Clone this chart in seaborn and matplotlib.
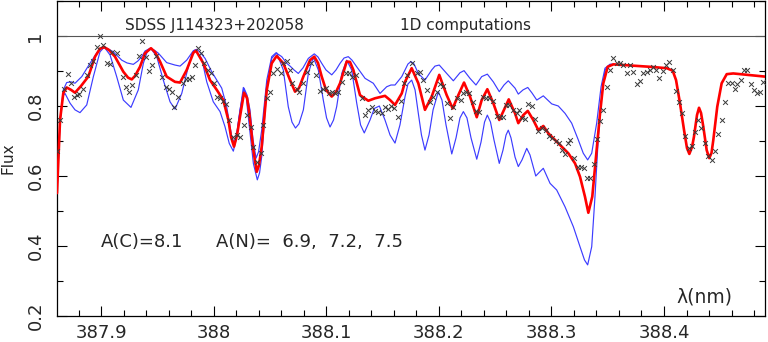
import matplotlib
matplotlib.use("Agg")
import matplotlib.pyplot as plt
import seaborn as sns
import pandas as pd
from matplotlib.ticker import FixedLocator, MultipleLocator

# ---------------- data (wavelength nm, normalised flux) ----------------
model_mid = [  # A(N)=7.2, red
(387.8609,0.551),(387.8636,0.760),(387.8665,0.837),(387.8695,0.853),(387.8734,0.846),(387.8769,0.838),(387.8822,0.857),(387.8887,0.884),(387.8947,0.941),(387.8991,0.964),(387.9029,0.968),(387.9071,0.960),(387.9124,0.941),(387.9198,0.898),(387.9240,0.881),(387.9273,0.876),(387.9302,0.886),(387.9346,0.912),(387.9391,0.951),(387.9444,0.965),(387.9480,0.954),(387.9524,0.927),(387.9583,0.884),(387.9657,0.869),(387.9702,0.867),(387.9761,0.903),(387.9820,0.952),(387.9844,0.958),(387.9909,0.922),(387.9968,0.874),(388.0028,0.846),(388.0086,0.817),(388.0131,0.760),(388.0155,0.711),(388.0181,0.684),(388.0208,0.717),(388.0234,0.769),(388.0270,0.838),(388.0297,0.823),(388.0317,0.779),(388.0353,0.674),(388.0383,0.612),(388.0403,0.631),(388.0427,0.684),(388.0472,0.846),(388.0516,0.922),(388.0560,0.943),(388.0619,0.922),(388.0679,0.874),(388.0723,0.841),(388.0758,0.851),(388.0797,0.884),(388.0856,0.931),(388.0894,0.941),(388.0927,0.923),(388.0960,0.884),(388.0998,0.846),(388.1049,0.827),(388.1087,0.840),(388.1123,0.865),(388.1182,0.927),(388.1211,0.926),(388.1241,0.903),(388.1300,0.831),(388.1374,0.815),(388.1433,0.822),(388.1522,0.829),(388.1567,0.817),(388.1611,0.803),(388.1671,0.836),(388.1700,0.869),(388.1759,0.908),(388.1818,0.865),(388.1877,0.789),(388.1937,0.827),(388.2004,0.889),(388.2070,0.831),(388.2123,0.793),(388.2173,0.831),(388.2224,0.867),(388.2277,0.827),(388.2337,0.768),(388.2381,0.817),(388.2431,0.848),(388.2484,0.808),(388.2537,0.760),(388.2579,0.789),(388.2621,0.819),(388.2677,0.779),(388.2706,0.751),(388.2750,0.774),(388.2790,0.786),(388.2839,0.760),(388.2884,0.731),(388.2928,0.743),(388.2973,0.722),(388.3032,0.703),(388.3092,0.684),(388.3150,0.665),(388.3210,0.636),(388.3254,0.598),(388.3298,0.541),(388.3328,0.495),(388.3363,0.541),(388.3396,0.655),(388.3432,0.779),(388.3461,0.865),(388.3500,0.912),(388.3550,0.919),(388.3743,0.915),(388.3876,0.912),(388.4024,0.908),(388.4077,0.901),(388.4107,0.874),(388.4142,0.808),(388.4178,0.731),(388.4204,0.680),(388.4225,0.663),(388.4249,0.683),(388.4266,0.712),(388.4293,0.774),(388.4311,0.795),(388.4329,0.780),(388.4349,0.741),(388.4379,0.674),(388.4402,0.651),(388.4422,0.666),(388.4438,0.703),(388.4473,0.798),(388.4512,0.865),(388.4557,0.891),(388.4615,0.893),(388.4897,0.884)]

model_low = [  # A(N)=6.9, blue
(387.8609,0.551),(387.8636,0.760),(387.8665,0.846),(387.8695,0.867),(387.8734,0.869),(387.8769,0.865),(387.8829,0.884),(387.8902,0.922),(387.8976,0.958),(387.9029,0.969),(387.9109,0.955),(387.9184,0.931),(387.9231,0.923),(387.9287,0.919),(387.9329,0.929),(387.9361,0.941),(387.9391,0.957),(387.9435,0.965),(387.9471,0.960),(387.9509,0.951),(387.9583,0.924),(387.9657,0.917),(387.9702,0.914),(387.9761,0.931),(387.9820,0.958),(387.9850,0.962),(387.9879,0.954),(387.9924,0.936),(387.9983,0.898),(388.0028,0.874),(388.0072,0.851),(388.0116,0.798),(388.0161,0.712),(388.0184,0.694),(388.0208,0.726),(388.0234,0.789),(388.0270,0.851),(388.0297,0.831),(388.0323,0.789),(388.0350,0.703),(388.0377,0.651),(388.0399,0.669),(388.0427,0.731),(388.0472,0.874),(388.0516,0.941),(388.0554,0.952),(388.0605,0.941),(388.0649,0.922),(388.0679,0.914),(388.0714,0.903),(388.0752,0.893),(388.0794,0.909),(388.0841,0.936),(388.0894,0.949),(388.0927,0.940),(388.0960,0.922),(388.0998,0.903),(388.1049,0.889),(388.1087,0.903),(388.1123,0.922),(388.1158,0.937),(388.1196,0.941),(388.1229,0.931),(388.1271,0.912),(388.1345,0.879),(388.1418,0.865),(388.1478,0.836),(388.1537,0.855),(388.1575,0.860),(388.1611,0.860),(388.1671,0.884),(388.1700,0.903),(388.1726,0.920),(388.1753,0.927),(388.1780,0.920),(388.1818,0.893),(388.1877,0.874),(388.1937,0.903),(388.1966,0.914),(388.2004,0.917),(388.2070,0.893),(388.2129,0.872),(388.2188,0.895),(388.2224,0.901),(388.2277,0.879),(388.2330,0.860),(388.2381,0.884),(388.2431,0.891),(388.2484,0.869),(388.2537,0.841),(388.2579,0.860),(388.2617,0.872),(388.2677,0.851),(388.2706,0.834),(388.2748,0.846),(388.2790,0.853),(388.2828,0.837),(388.2870,0.817),(388.2928,0.829),(388.3003,0.806),(388.3061,0.800),(388.3121,0.779),(388.3180,0.751),(388.3239,0.703),(388.3283,0.665),(388.3322,0.646),(388.3358,0.665),(388.3402,0.751),(388.3441,0.855),(388.3476,0.908),(388.3520,0.919),(388.3550,0.919)]

model_high = [  # A(N)=7.5, blue
(387.8609,0.551),(387.8636,0.754),(387.8663,0.829),(387.8680,0.836),(387.8725,0.808),(387.8769,0.789),(387.8813,0.781),(387.8873,0.803),(387.8932,0.884),(387.8991,0.955),(387.9029,0.968),(387.9080,0.946),(387.9139,0.884),(387.9198,0.817),(387.9266,0.796),(387.9331,0.846),(387.9376,0.922),(387.9409,0.954),(387.9441,0.965),(387.9495,0.941),(387.9553,0.874),(387.9613,0.812),(387.9657,0.791),(387.9717,0.836),(387.9775,0.912),(387.9808,0.949),(387.9835,0.960),(387.9894,0.936),(387.9939,0.869),(387.9997,0.812),(388.0057,0.784),(388.0101,0.741),(388.0139,0.693),(388.0175,0.671),(388.0199,0.703),(388.0219,0.751),(388.0264,0.853),(388.0288,0.831),(388.0308,0.769),(388.0353,0.636),(388.0388,0.589),(388.0408,0.609),(388.0427,0.655),(388.0472,0.846),(388.0516,0.936),(388.0560,0.952),(388.0619,0.903),(388.0663,0.798),(388.0696,0.754),(388.0727,0.737),(388.0758,0.749),(388.0797,0.789),(388.0841,0.893),(388.0885,0.939),(388.0930,0.903),(388.0974,0.817),(388.1003,0.766),(388.1034,0.740),(388.1065,0.760),(388.1093,0.798),(388.1138,0.893),(388.1182,0.931),(388.1226,0.903),(388.1271,0.808),(388.1305,0.746),(388.1338,0.723),(388.1389,0.760),(388.1427,0.793),(388.1472,0.800),(388.1522,0.760),(388.1567,0.717),(388.1611,0.694),(388.1655,0.746),(388.1700,0.827),(388.1726,0.863),(388.1759,0.874),(388.1789,0.846),(388.1818,0.779),(388.1846,0.717),(388.1877,0.674),(388.1913,0.717),(388.1949,0.789),(388.1996,0.841),(388.2028,0.817),(388.2064,0.746),(388.2115,0.663),(388.2153,0.709),(388.2188,0.766),(388.2218,0.784),(388.2250,0.766),(388.2286,0.709),(388.2337,0.648),(388.2375,0.697),(388.2406,0.754),(388.2431,0.774),(388.2459,0.754),(388.2490,0.703),(388.2537,0.636),(388.2570,0.674),(388.2597,0.717),(388.2617,0.731),(388.2641,0.709),(388.2677,0.654),(388.2706,0.627),(388.2739,0.646),(388.2781,0.679),(388.2810,0.660),(388.2861,0.600),(388.2894,0.611),(388.2928,0.622),(388.2988,0.579),(388.3047,0.560),(388.3121,0.512),(388.3195,0.455),(388.3254,0.398),(388.3294,0.360),(388.3322,0.346),(388.3358,0.398),(388.3387,0.541),(388.3417,0.712),(388.3447,0.827),(388.3476,0.903),(388.3520,0.919),(388.3550,0.919)]

observed = [
(387.8607,0.672),(387.8636,0.760),(387.8674,0.848),(387.8704,0.891),(387.8734,0.865),(387.8763,0.827),(387.8784,0.831),(387.8805,0.834),(387.8843,0.848),(387.8873,0.889),(387.8902,0.917),(387.8932,0.929),(387.8962,0.968),(387.8991,1.001),(387.9020,0.974),(387.9051,0.922),(387.9080,0.920),(387.9100,0.955),(387.9139,0.952),(387.9198,0.884),(387.9219,0.853),(387.9249,0.841),(387.9278,0.860),(387.9308,0.889),(387.9338,0.943),(387.9367,0.986),(387.9397,0.941),(387.9426,0.901),(387.9456,0.917),(387.9486,0.943),(387.9539,0.884),(387.9575,0.855),(387.9604,0.848),(387.9633,0.841),(387.9651,0.796),(387.9687,0.827),(387.9726,0.865),(387.9755,0.876),(387.9784,0.876),(387.9806,0.882),(387.9835,0.917),(387.9864,0.965),(387.9885,0.952),(387.9915,0.922),(387.9953,0.903),(387.9974,0.893),(388.0004,0.865),(388.0033,0.827),(388.0057,0.822),(388.0081,0.815),(388.0110,0.806),(388.0139,0.760),(388.0175,0.712),(388.0205,0.717),(388.0234,0.712),(388.0270,0.746),(388.0299,0.774),(388.0330,0.739),(388.0353,0.684),(388.0388,0.641),(388.0418,0.665),(388.0441,0.746),(388.0472,0.822),(388.0501,0.841),(388.0530,0.893),(388.0560,0.905),(388.0596,0.893),(388.0619,0.922),(388.0649,0.929),(388.0679,0.903),(388.0699,0.867),(388.0738,0.848),(388.0758,0.841),(388.0797,0.867),(388.0827,0.898),(388.0865,0.922),(388.0907,0.889),(388.0945,0.844),(388.0974,0.848),(388.0996,0.851),(388.1025,0.836),(388.1054,0.841),(388.1078,0.838),(388.1107,0.841),(388.1143,0.869),(388.1173,0.893),(388.1202,0.895),(388.1226,0.884),(388.1262,0.889),(388.1315,0.822),(388.1345,0.774),(388.1374,0.789),(388.1404,0.796),(388.1433,0.787),(388.1463,0.784),(388.1493,0.781),(388.1522,0.798),(388.1552,0.791),(388.1575,0.800),(388.1605,0.793),(388.1635,0.768),(388.1664,0.813),(388.1694,0.867),(388.1720,0.889),(388.1759,0.924),(388.1804,0.895),(388.1833,0.898),(388.1862,0.874),(388.1893,0.846),(388.1922,0.812),(388.1951,0.825),(388.1981,0.841),(388.2011,0.863),(388.2035,0.857),(388.2070,0.808),(388.2099,0.765),(388.2129,0.798),(388.2164,0.822),(388.2195,0.817),(388.2218,0.838),(388.2242,0.841),(388.2271,0.838),(388.2301,0.812),(388.2330,0.787),(388.2360,0.784),(388.2390,0.827),(388.2419,0.822),(388.2449,0.822),(388.2479,0.815),(388.2514,0.771),(388.2544,0.768),(388.2567,0.768),(388.2597,0.803),(388.2626,0.803),(388.2656,0.789),(388.2692,0.779),(388.2715,0.789),(388.2736,0.765),(388.2766,0.762),(388.2795,0.806),(388.2825,0.800),(388.2854,0.762),(388.2884,0.729),(388.2919,0.736),(388.2949,0.731),(388.2979,0.714),(388.3008,0.708),(388.3038,0.701),(388.3068,0.695),(388.3092,0.674),(388.3121,0.663),(388.3145,0.695),(388.3168,0.703),(388.3203,0.651),(388.3234,0.625),(388.3263,0.625),(388.3287,0.622),(388.3316,0.593),(388.3346,0.593),(388.3376,0.634),(388.3402,0.705),(388.3432,0.758),(388.3461,0.789),(388.3491,0.855),(388.3520,0.903),(388.3550,0.936),(388.3580,0.922),(388.3609,0.924),(388.3639,0.917),(388.3669,0.895),(388.3698,0.917),(388.3722,0.898),(388.3758,0.862),(388.3787,0.871),(388.3816,0.893),(388.3846,0.898),(388.3876,0.903),(388.3900,0.912),(388.3929,0.903),(388.3958,0.879),(388.3989,0.901),(388.4018,0.917),(388.4047,0.927),(388.4077,0.903),(388.4107,0.843),(388.4136,0.812),(388.4157,0.781),(388.4187,0.714),(388.4225,0.679),(388.4246,0.686),(388.4275,0.727),(388.4305,0.760),(388.4329,0.736),(388.4364,0.695),(388.4393,0.657),(388.4424,0.646),(388.4453,0.671),(388.4482,0.720),(388.4512,0.760),(388.4542,0.812),(388.4571,0.867),(388.4601,0.867),(388.4631,0.848),(388.4651,0.863),(388.4681,0.874),(388.4711,0.903),(388.4740,0.903),(388.4770,0.863),(388.4799,0.846),(388.4829,0.836),(388.4853,0.840),(388.4882,0.869)]

x_ticks = [387.9, 388.0, 388.1, 388.2, 388.3, 388.4]
x_tick_labels = ["387.9", "388", "388.1", "388.2", "388.3", "388.4"]
y_ticks = [0.2, 0.4, 0.6, 0.8, 1.0]
y_tick_labels = ["0.2", "0.4", "0.6", "0.8", "1"]
continuum = 1.0

# ---------------- plot ----------------
sns.set_style("ticks")
plt.rcParams['font.family'] = ['DejaVu Sans']

cols = ["wl", "flux"]
df_mid = pd.DataFrame(model_mid, columns=cols)
df_low = pd.DataFrame(model_low, columns=cols)
df_high = pd.DataFrame(model_high, columns=cols)
df_obs = pd.DataFrame(observed, columns=cols)

fig = plt.figure(figsize=(7.68, 3.42), dpi=100)
ax = fig.add_axes([57/768, 26/342, 708/768, 315/342])

blue = "#3c3cff"
ax.axhline(continuum, color="#555555", lw=0.8, zorder=1)
sns.lineplot(data=df_low, x="wl", y="flux", ax=ax, color=blue, lw=0.85,
             sort=False, estimator=None, zorder=2)
sns.lineplot(data=df_high, x="wl", y="flux", ax=ax, color=blue, lw=0.85,
             sort=False, estimator=None, zorder=2)
sns.lineplot(data=df_mid, x="wl", y="flux", ax=ax, color="#ff0000", lw=1.9,
             sort=False, estimator=None, zorder=3)
sns.scatterplot(data=df_obs, x="wl", y="flux", ax=ax, marker="x",
                color="#3a3a3a", s=12, linewidth=0.7, zorder=4)

ax.set_xlim(387.8609, 388.4897)
ax.set_ylim(0.2, 1.1)

ax.xaxis.set_major_locator(FixedLocator(x_ticks))
ax.set_xticklabels(x_tick_labels)
ax.xaxis.set_minor_locator(MultipleLocator(0.02))
ax.yaxis.set_major_locator(FixedLocator(y_ticks))
ax.set_yticklabels(y_tick_labels, rotation=90, va="center")
ax.yaxis.set_minor_locator(MultipleLocator(0.1))

ax.tick_params(which="both", direction="in", top=True, right=True,
               width=0.8, color="black", labelsize=13)
ax.tick_params(which="major", length=7)
ax.tick_params(which="minor", length=4)
ax.tick_params(axis="x", pad=5.5)
ax.tick_params(axis="y", pad=9)

for s in ax.spines.values():
    s.set_linewidth(0.9)
    s.set_color("black")

ax.set_xlabel("")
ax.set_ylabel("Flux", fontsize=11, labelpad=8)

ax.text(0.096, 0.908, "SDSS J114323+202058", transform=ax.transAxes,
        fontsize=11, va="baseline", ha="left")
ax.text(0.4845, 0.908, "1D computations", transform=ax.transAxes,
        fontsize=11, va="baseline", ha="left")
ax.text(0.0621, 0.220, "A(C)=8.1", transform=ax.transAxes,
        fontsize=13, va="baseline", ha="left")
ax.text(0.2246, 0.220, "A(N)=  6.9,  7.2,  7.5", transform=ax.transAxes,
        fontsize=13, va="baseline", ha="left")
ax.text(0.8743, 0.0444, "λ(nm)", transform=ax.transAxes,
        fontsize=13.5, va="baseline", ha="left")

fig.savefig("out.png", dpi=100)
